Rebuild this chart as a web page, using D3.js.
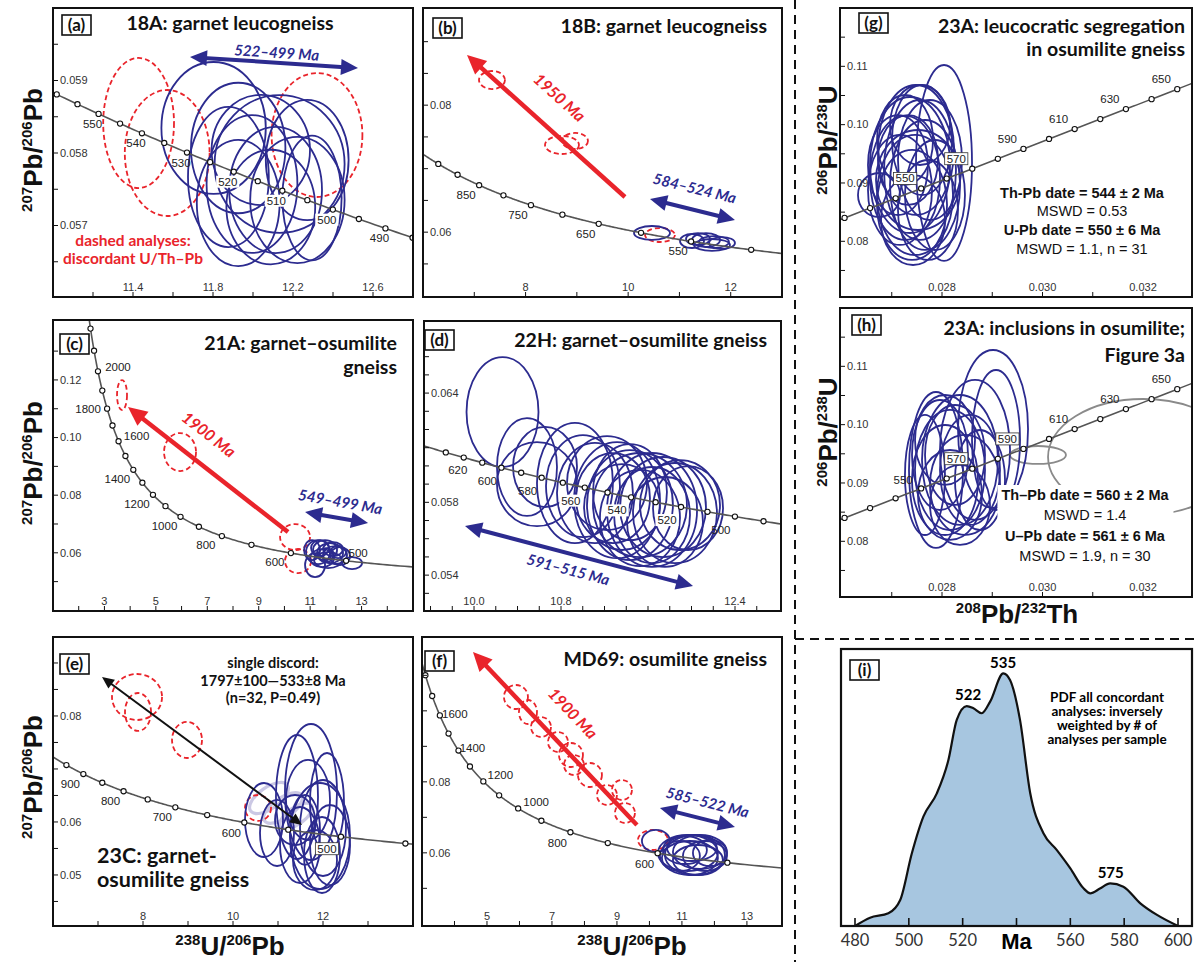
<!DOCTYPE html>
<html>
<head>
<meta charset="utf-8">
<script src="https://cdn.jsdelivr.net/npm/d3@7/dist/d3.min.js"></script>
<style>
  body { margin: 0; background: #fff; }
  svg { display: block; }
  .tick-label { font-family: 'Liberation Sans', Arial, sans-serif; font-size: 11px; fill: #333; }
  .age-label { font-family: 'Liberation Sans', Arial, sans-serif; font-size: 11.5px; fill: #222; }
  .title { font-family: Lato, 'Open Sans', sans-serif; font-weight: bold; fill: #111; }
  .axis-title { font-family: 'Liberation Sans', Arial, sans-serif; font-weight: bold; font-size: 26px; fill: #111; }
  .tag { font-family: Lato, sans-serif; font-weight: bold; font-size: 17px; fill: #111; }
  .note { font-family: Lato, sans-serif; font-weight: bold; }
  .stat { font-family: 'Liberation Sans', Arial, sans-serif; font-size: 14.5px; fill: #111; }
</style>
</head>
<body>
<svg id="fig" width="1199" height="962"></svg>
<script>
'use strict';

var BLUE = '#2c2b8f';
var RED = '#e9242b';
var LAVENDER = '#cbc8e4';
var GRAY = '#8a8a8a';
var FILL_I = '#a7c6e0';

// decay constants, per Ma
var L238 = 1.55125e-4, L235 = 9.8485e-4, L232 = 4.9475e-5, U_RATIO = 137.88;
function twX(t) { return 1 / (Math.exp(L238 * t) - 1); }
function twY(t) { return (Math.exp(L235 * t) - 1) / (Math.exp(L238 * t) - 1) / U_RATIO; }
function thX(t) { return Math.exp(L232 * t) - 1; }
function thY(t) { return Math.exp(L238 * t) - 1; }

// ---------- (a) 18A ----------  ellipses: [x, y, half-width, half-height]
var aXLabels = [11.4, 11.8, 12.2, 12.6];
var aYLabels = [0.057, 0.058, 0.059];
var aAges = [485, 490, 495, 500, 505, 510, 515, 520, 525, 530, 535, 540, 545, 550, 555, 560];
var aAgeLabels = [490, 500, 510, 520, 530, 540, 550];
var aRed = [[11.428, 0.058414, 0.177, 0.000897], [11.571, 0.05800, 0.212, 0.000869], [12.320, 0.058248, 0.227, 0.000855]];
var aBlue = [
  [11.803, 0.058345, 0.261, 0.00091], [11.877, 0.057669, 0.202, 0.000966], [11.995, 0.057572, 0.227, 0.00095],
  [12.133, 0.057848, 0.325, 0.00095], [12.222, 0.057352, 0.236, 0.00087], [12.113, 0.05749, 0.232, 0.00087],
  [12.271, 0.057903, 0.207, 0.00083], [11.926, 0.058069, 0.236, 0.0009], [11.926, 0.05731, 0.207, 0.00087],
  [12.295, 0.057379, 0.148, 0.00086], [12.089, 0.057255, 0.222, 0.00079], [12.039, 0.058041, 0.246, 0.00076]
];

// ---------- (b) 18B ----------
var bXLabels = [8, 10, 12];
var bYLabels = [0.06, 0.08];
var bAges = [500, 550, 600, 650, 700, 750, 800, 850, 900, 950];
var bAgeLabels = [850, 750, 650, 550];
var bRed = [[7.345, 0.08396, 0.253, 0.00142], [8.710, 0.07373, 0.331, 0.00142], [8.963, 0.07436, 0.253, 0.00126], [10.621, 0.05955, 0.292, 0.0011]];
var bBlue = [
  [10.465, 0.05987, 0.351, 0.0011], [11.362, 0.05892, 0.234, 0.00094], [11.518, 0.05876, 0.273, 0.0011],
  [11.674, 0.05845, 0.292, 0.00094], [11.830, 0.05829, 0.253, 0.00094], [11.635, 0.05798, 0.351, 0.00094],
  [11.245, 0.05861, 0.234, 0.0011]
];

// ---------- (c) 21A ----------
var cXLabels = [3, 5, 7, 9, 11, 13];
var cYLabels = [0.06, 0.08, 0.10, 0.12];
var cAges = [500, 600, 700, 800, 900, 1000, 1100, 1200, 1300, 1400, 1500, 1600, 1700, 1800, 1900, 2000, 2100, 2200];
var cAgeLabels = [2000, 1800, 1600, 1400, 1200, 1000, 800, 600, 500];
var cRed = [[3.684, 0.11476, 0.194, 0.0052], [5.940, 0.09497, 0.622, 0.0066], [10.413, 0.06545, 0.583, 0.0045], [10.529, 0.05712, 0.506, 0.0042]];
var cBlue = [
  [11.307, 0.06024, 0.467, 0.00417], [11.580, 0.06094, 0.467, 0.00347], [11.774, 0.0599, 0.506, 0.00347],
  [11.968, 0.0592, 0.467, 0.00313], [12.163, 0.05886, 0.389, 0.00313], [11.463, 0.05816, 0.467, 0.00313],
  [11.191, 0.05573, 0.389, 0.00417], [12.630, 0.05643, 0.389, 0.00208], [11.696, 0.05747, 0.545, 0.00278],
  [11.074, 0.06094, 0.311, 0.00347], [11.385, 0.06163, 0.35, 0.00278], [11.891, 0.06128, 0.389, 0.00243],
  [11.619, 0.0592, 0.311, 0.00243], [12.085, 0.06024, 0.311, 0.00208]
];

// ---------- (d) 22H ----------
var dXLabels = [10.0, 10.8, 12.4];
var dYLabels = [0.054, 0.058, 0.064];
var dAges = [490, 500, 510, 520, 530, 540, 550, 560, 570, 580, 590, 600, 610, 620, 630];
var dAgeLabels = [620, 600, 580, 560, 540, 520, 500];
var dBlue = [
  [10.262, 0.06296, 0.331, 0.00302], [10.487, 0.05994, 0.276, 0.00269], [10.579, 0.05900, 0.368, 0.00231],
  [10.653, 0.05994, 0.294, 0.0022], [10.928, 0.05906, 0.349, 0.0033], [11.002, 0.05889, 0.340, 0.0028],
  [11.112, 0.05851, 0.349, 0.00275], [11.315, 0.05812, 0.395, 0.00319], [11.434, 0.05785, 0.395, 0.00302],
  [11.526, 0.05785, 0.432, 0.00286], [11.637, 0.05758, 0.414, 0.00313], [11.738, 0.05774, 0.395, 0.00275],
  [11.848, 0.05741, 0.386, 0.00275], [11.894, 0.05785, 0.368, 0.00247], [11.526, 0.05714, 0.368, 0.00264],
  [11.361, 0.05774, 0.349, 0.00236], [11.637, 0.0573, 0.349, 0.00264], [11.756, 0.05692, 0.349, 0.00247],
  [11.278, 0.05823, 0.340, 0.00247], [11.968, 0.05768, 0.322, 0.00231], [11.434, 0.05856, 0.340, 0.00264],
  [11.223, 0.05906, 0.368, 0.00258]
];

// ---------- (e) 23C ----------
var eXLabels = [8, 10, 12];
var eYLabels = [0.05, 0.06, 0.08];
var eAges = [450, 500, 550, 600, 650, 700, 750, 800, 850, 900, 950];
var eAgeLabels = [900, 800, 700, 600, 500];
var eRed = [[7.867, 0.08358, 0.556, 0.00434], [7.889, 0.08075, 0.289, 0.00358], [8.978, 0.07547, 0.333, 0.0034], [10.556, 0.06264, 0.289, 0.00245]];
// pale ellipses: [x, y, half-width, half-height, tilt]
var eLight = [[10.80, 0.06452, 0.50, 0.0020, -35], [11.11, 0.06264, 0.50, 0.0019, -35], [11.40, 0.06113, 0.42, 0.0016, -35]];
var eBlue = [
  [11.733, 0.06565, 0.578, 0.01283], [11.422, 0.06471, 0.467, 0.0117], [10.689, 0.06037, 0.422, 0.00698],
  [11.933, 0.05735, 0.667, 0.0100], [12.0, 0.05886, 0.511, 0.00906], [11.489, 0.05565, 0.444, 0.00717],
  [11.978, 0.05377, 0.4, 0.00717], [11.667, 0.06415, 0.489, 0.00755], [10.978, 0.05792, 0.378, 0.00623],
  [12.089, 0.06358, 0.378, 0.00943], [11.6, 0.05849, 0.333, 0.0066], [11.822, 0.05282, 0.489, 0.00566],
  [11.378, 0.06037, 0.444, 0.00472], [12.156, 0.05565, 0.444, 0.00755]
];

// ---------- (f) MD69 ----------
var fXLabels = [5, 7, 9, 11, 13];
var fYLabels = [0.06, 0.08];
var fAges = [500, 600, 700, 800, 900, 1000, 1100, 1200, 1300, 1400, 1500, 1600, 1700, 1800];
var fAgeLabels = [1600, 1400, 1200, 1000, 800, 600];
var fRed = [
  [5.892, 0.10390, 0.369, 0.00338], [6.262, 0.09967, 0.277, 0.00338], [6.662, 0.09545, 0.308, 0.00282],
  [7.185, 0.09122, 0.308, 0.00282], [7.585, 0.08756, 0.369, 0.00338], [7.677, 0.08474, 0.308, 0.00282],
  [8.169, 0.08193, 0.369, 0.00338], [8.692, 0.07629, 0.308, 0.00282], [9.154, 0.0777, 0.308, 0.00282],
  [9.246, 0.07122, 0.308, 0.00282], [10.108, 0.06362, 0.462, 0.00282]
];
var fBlue = [
  [11.185, 0.05995, 0.923, 0.00507], [11.4, 0.05939, 0.923, 0.00563], [11.554, 0.06024, 0.831, 0.00479],
  [11.246, 0.05855, 0.862, 0.00479], [11.708, 0.05911, 0.677, 0.00423], [11.092, 0.0608, 0.677, 0.00394],
  [11.492, 0.05798, 0.769, 0.00423], [11.308, 0.06136, 0.769, 0.00366], [10.938, 0.05911, 0.615, 0.00423],
  [11.862, 0.05995, 0.523, 0.00366], [10.2, 0.06334, 0.431, 0.0031]
];

// ---------- (g) 23A segregation ----------
var ghXLabels = [0.028, 0.030, 0.032];
var ghYLabels = [0.08, 0.09, 0.10, 0.11];
var ghAges = [520, 530, 540, 550, 560, 570, 580, 590, 600, 610, 620, 630, 640, 650];
var ghAgeLabels = [550, 570, 590, 610, 630, 650];
var gBlue = [
  [0.02804, 0.09343, 0.000557, 0.0168], [0.027482, 0.09566, 0.000756, 0.01114], [0.027363, 0.09308, 0.000796, 0.01166],
  [0.027562, 0.09223, 0.000716, 0.0120], [0.027264, 0.09086, 0.000697, 0.01063], [0.027662, 0.08966, 0.000697, 0.01114],
  [0.027463, 0.08794, 0.000756, 0.01029], [0.027164, 0.0888, 0.000637, 0.00943], [0.027761, 0.09394, 0.000637, 0.01029],
  [0.026746, 0.08794, 0.000418, 0.00377], [0.027403, 0.08623, 0.000697, 0.00943], [0.027602, 0.09737, 0.000597, 0.00943],
  [0.027323, 0.09394, 0.000597, 0.00771], [0.02786, 0.08794, 0.000597, 0.00943], [0.027522, 0.09051, 0.000836, 0.00857],
  [0.027124, 0.09308, 0.000597, 0.00857], [0.027721, 0.08537, 0.000597, 0.00857], [0.027423, 0.08365, 0.000637, 0.00771],
  [0.027264, 0.09737, 0.000557, 0.00771], [0.027562, 0.09994, 0.000597, 0.00686]
];
var gStats = ['Th-Pb date = 544 ± 2 Ma', 'MSWD = 0.53', 'U-Pb date = 550 ± 6 Ma', 'MSWD = 1.1, n = 31'];

// ---------- (h) 23A inclusions ----------
var hBlue = [
  [0.029015, 0.09926, 0.000697, 0.01354], [0.029075, 0.09737, 0.000478, 0.012], [0.02788, 0.09223, 0.000537, 0.01337],
  [0.028159, 0.09223, 0.000697, 0.01029], [0.028358, 0.09394, 0.000756, 0.01114], [0.02806, 0.09051, 0.000657, 0.00943],
  [0.028458, 0.08966, 0.000697, 0.00857], [0.028259, 0.0948, 0.000597, 0.00857], [0.02796, 0.0948, 0.000557, 0.00943],
  [0.028557, 0.09223, 0.000597, 0.00943], [0.028159, 0.08794, 0.000637, 0.00771], [0.028657, 0.09566, 0.000697, 0.012],
  [0.028358, 0.08623, 0.000597, 0.00686], [0.02806, 0.09737, 0.000597, 0.00771], [0.028756, 0.09051, 0.000498, 0.00857],
  [0.027661, 0.09137, 0.000398, 0.01029]
];
var hGray = [[0.02991, 0.0948, 0.000557, 0.00154], [0.03200, 0.09446, 0.00189, 0.00994]];
var hStats = ['Th–Pb date = 560 ± 2 Ma', 'MSWD = 1.4', 'U–Pb date = 561 ± 6 Ma', 'MSWD = 1.9, n = 30'];

// ---------- (i) PDF ----------
var iAge = [480, 485.6, 492.4, 496.8, 501.1, 505.4, 510.4, 514.7, 517.8, 521.5, 524.0, 527.1, 530.2, 535.1, 537.6,
  541.3, 545.1, 550.0, 555.0, 560.0, 564.9, 567.4, 571.0, 574.8, 579.7, 586.0, 592.2, 600];
var iDens = [0, 0.030, 0.046, 0.094, 0.262, 0.395, 0.479, 0.599, 0.744, 0.794, 0.786, 0.768, 0.810, 0.912, 0.888,
  0.744, 0.479, 0.335, 0.274, 0.208, 0.136, 0.118, 0.135, 0.154, 0.142, 0.082, 0.040, 0];
var iTicks = [480, 500, 520, 540, 560, 580, 600];
var iPeaks = [522, 535, 575];
var iPeakVals = [0.794, 0.912, 0.154];

// ---------- layout ----------
var svg = d3.select('#fig');
var defs = svg.append('defs');

var panels = [
  { id: 'a', x0: 53, x1: 413, y0: 8, y1: 297, xDom: [11.0, 12.8], yDom: [0.056014, 0.0600], xStep: 0.2, yStep: 0.0005,
    xLabels: aXLabels, yLabels: aYLabels, xFmt: '.1f', yFmt: '.3f', sys: 'tw', tSpan: [470, 580, 1],
    ages: aAges, ageLabels: aAgeLabels, labOff: [-6, 10], labOver: {}, boxed: [520, 510, 500], boxStroke: false,
    red: aRed, blue: aBlue,
    arrows: [{ from: [11.685, 0.059324], to: [12.525, 0.059172], both: true, kind: 'blue', label: '522–499 Ma', off: 10, along: 2 }],
    tag: [62, 15], title: ['18A: garnet leucogneiss'], tAnchor: 'middle', tX: 230, tY: [30], tSize: 19.5 },
  { id: 'b', x0: 423, x1: 782, y0: 8, y1: 297, xDom: [6, 13], yDom: [0.04979, 0.0953], xStep: 1, yStep: 0.005,
    xLabels: bXLabels, yLabels: bYLabels, xFmt: 'd', yFmt: '.2f', sys: 'tw', tSpan: [440, 1100, 2],
    ages: bAges, ageLabels: bAgeLabels, labOff: [-13, 10], labOver: {}, boxed: [], boxStroke: false,
    red: bRed, blue: bBlue,
    arrows: [
      { from: [9.938, 0.06554], to: [6.858, 0.0879], both: false, kind: 'red', label: '1950 Ma', off: 30, along: -9 },
      { from: [10.426, 0.06522], to: [12.083, 0.06191], both: true, kind: 'blue', label: '584–524 Ma', off: 21, along: -3 }
    ],
    tag: [433, 18], title: ['18B: garnet leucogneiss'], tAnchor: 'end', tX: 767, tY: [33], tSize: 19.5 },
  { id: 'c', x0: 53, x1: 413, y0: 320, y1: 611, xDom: [1, 15], yDom: [0.0398, 0.1408], xStep: 1, yStep: 0.01,
    xLabels: cXLabels, yLabels: cYLabels, xFmt: 'd', yFmt: '.2f', sys: 'tw', tSpan: [380, 2500, 5],
    ages: cAges, ageLabels: cAgeLabels, labOff: [-16, 9],
    labOver: { 2000: [20, -4], 1800: [-19, 0], 1600: [18, -5], 500: [12, -8] }, boxed: [], boxStroke: false,
    red: cRed, blue: cBlue,
    arrows: [
      { from: [10.140, 0.06719], to: [3.917, 0.11059], both: false, kind: 'red', label: '1900 Ma', off: 28, along: -21 },
      { from: [10.802, 0.07413], to: [13.252, 0.07031], both: true, kind: 'blue', label: '549–499 Ma', off: 16, along: 1 }
    ],
    tag: [60, 334], title: ['21A: garnet–osumilite', 'gneiss'], tAnchor: 'end', tX: 397, tY: [350, 374], tSize: 19.5 },
  { id: 'd', x0: 424, x1: 781, y0: 321, y1: 611, xDom: [9.54, 12.823], yDom: [0.05203, 0.06796], xStep: 0.2, yStep: 0.001,
    xLabels: dXLabels, yLabels: dYLabels, xFmt: '.1f', yFmt: '.3f', sys: 'tw', tSpan: [470, 660, 1],
    ages: dAges, ageLabels: dAgeLabels, labOff: [-14, 13], labOver: { 620: [-6, 12] }, boxed: [560, 540, 520], boxStroke: false,
    red: [], blue: dBlue,
    arrows: [{ from: [9.917, 0.05670], to: [12.014, 0.05340], both: true, kind: 'blue', label: '591–515 Ma', off: -16, along: -7 }],
    tag: [425, 330], title: ['22H: garnet–osumilite gneiss'], tAnchor: 'end', tX: 767, tY: [347], tSize: 19.5 },
  { id: 'e', x0: 53, x1: 413, y0: 637, y1: 926, xDom: [6, 14], yDom: [0.04037, 0.0949], xStep: 1, yStep: 0.005,
    xLabels: eXLabels, yLabels: eYLabels, xFmt: 'd', yFmt: '.2f', sys: 'tw', tSpan: [400, 1100, 2],
    ages: eAges, ageLabels: eAgeLabels, labOff: [-13, 10], labOver: { 500: [-14, 12] }, boxed: [500], boxStroke: true,
    red: eRed, blue: eBlue, light: eLight,
    arrows: [{ from: [11.533, 0.05943], to: [7.089, 0.08735], both: true, kind: 'black' }],
    tag: [60, 654], title: ['23C: garnet-', 'osumilite gneiss'], tAnchor: 'start', tX: 97, tY: [863, 887], tSize: 21.5 },
  { id: 'f', x0: 422, x1: 782, y0: 637, y1: 926, xDom: [3, 14.08], yDom: [0.03939, 0.1208], xStep: 1, yStep: 0.01,
    xLabels: fXLabels, yLabels: fYLabels, xFmt: 'd', yFmt: '.2f', sys: 'tw', tSpan: [380, 2200, 5],
    ages: fAges, ageLabels: fAgeLabels, labOff: [-13, 11],
    labOver: { 1600: [15, -1], 1400: [14, -3], 1200: [17, -6], 1000: [18, -6] }, boxed: [], boxStroke: false,
    red: fRed, blue: fBlue,
    arrows: [
      { from: [9.615, 0.06784], to: [4.569, 0.11657], both: false, kind: 'red', label: '1900 Ma', off: 30, along: -6 },
      { from: [10.323, 0.07263], to: [12.631, 0.06728], both: true, kind: 'blue', label: '585–522 Ma', off: 17, along: 6 }
    ],
    tag: [425, 651], title: ['MD69: osumilite gneiss'], tAnchor: 'end', tX: 767, tY: [666], tSize: 19.5 },
  { id: 'g', x0: 840, x1: 1192, y0: 8, y1: 297, xDom: [0.02597, 0.032975], yDom: [0.07045, 0.12], xStep: 0.001, yStep: 0.005,
    xLabels: ghXLabels, yLabels: ghYLabels, xFmt: '.3f', yFmt: '.2f', sys: 'th', tSpan: [480, 720, 1],
    ages: ghAges, ageLabels: ghAgeLabels, labOff: [-16, -10], labOver: {}, boxed: [550, 570], boxStroke: true,
    red: [], blue: gBlue, arrows: [], stats: gStats, statX: 1082, statY: [198, 216, 235, 254],
    tag: [859, 13], title: ['23A: leucocratic segregation', 'in osumilite gneiss'], tAnchor: 'end', tX: 1185, tY: [33, 56], tSize: 19.5 },
  { id: 'h', x0: 840, x1: 1192, y0: 308, y1: 597, xDom: [0.02597, 0.032975], yDom: [0.07045, 0.12], xStep: 0.001, yStep: 0.005,
    xLabels: ghXLabels, yLabels: ghYLabels, xFmt: '.3f', yFmt: '.2f', sys: 'th', tSpan: [480, 720, 1],
    ages: ghAges, ageLabels: ghAgeLabels, labOff: [-16, -10], labOver: { 550: [-18, -8] }, boxed: [570, 590], boxStroke: true,
    red: [], blue: hBlue, gray: hGray, arrows: [], stats: hStats, statX: 1085, statY: [500, 520, 541, 561],
    tag: [852, 315], title: ['23A: inclusions in osumilite;', 'Figure 3a'], tAnchor: 'end', tX: 1185, tY: [335, 362], tSize: 19.5 }
];

var arrowStyle = {
  blue: { color: BLUE, width: 4, head: 17, half: 8, fs: 15 },
  red: { color: RED, width: 4.5, head: 19, half: 9, fs: 16 },
  black: { color: '#111', width: 2, head: 12, half: 5.5, fs: 14 }
};

function stepValues(dom, step) {
  var lo = Math.min(dom[0], dom[1]), hi = Math.max(dom[0], dom[1]);
  var k0 = Math.ceil(lo / step - 1e-6), k1 = Math.floor(hi / step + 1e-6);
  return d3.range(k0, k1 + 1).map(function (k) { return +(k * step).toFixed(6); });
}

function drawEllipses(layer, data, x, y, color, dash, width) {
  layer.append('g').selectAll('ellipse').data(data).enter().append('ellipse')
    .attr('cx', function (d) { return x(d[0]); })
    .attr('cy', function (d) { return y(d[1]); })
    .attr('rx', function (d) { return Math.abs(x(d[0] + d[2]) - x(d[0])); })
    .attr('ry', function (d) { return Math.abs(y(d[1] + d[3]) - y(d[1])); })
    .attr('transform', function (d) { return d.length > 4 ? 'rotate(' + d[4] + ',' + x(d[0]) + ',' + y(d[1]) + ')' : null; })
    .attr('fill', 'none').attr('stroke', color).attr('stroke-width', width || 1.8)
    .attr('stroke-dasharray', dash);
}

function drawArrow(layer, a, x, y) {
  var st = arrowStyle[a.kind];
  var x1 = x(a.from[0]), y1 = y(a.from[1]), x2 = x(a.to[0]), y2 = y(a.to[1]);
  var dx = x2 - x1, dy = y2 - y1, len = Math.sqrt(dx * dx + dy * dy);
  var ux = dx / len, uy = dy / len;
  function head(tx, ty, vx, vy) {
    var bx = tx - vx * st.head, by = ty - vy * st.head;
    return [[tx, ty], [bx - vy * st.half, by + vx * st.half], [bx + vy * st.half, by - vx * st.half]];
  }
  var sx = a.both ? x1 + ux * st.head * 0.8 : x1, sy = a.both ? y1 + uy * st.head * 0.8 : y1;
  layer.append('line')
    .attr('x1', sx).attr('y1', sy).attr('x2', x2 - ux * st.head * 0.8).attr('y2', y2 - uy * st.head * 0.8)
    .attr('stroke', st.color).attr('stroke-width', st.width);
  layer.append('polygon').attr('points', head(x2, y2, ux, uy).join(' ')).attr('fill', st.color);
  if (a.both) layer.append('polygon').attr('points', head(x1, y1, -ux, -uy).join(' ')).attr('fill', st.color);
  if (a.label) {
    var ang = Math.atan2(dy, dx) * 180 / Math.PI;
    if (ang > 90) ang -= 180; else if (ang < -90) ang += 180;
    var r = ang * Math.PI / 180;
    var lx = (x1 + x2) / 2 + Math.sin(r) * a.off + Math.cos(r) * a.along;
    var ly = (y1 + y2) / 2 - Math.cos(r) * a.off + Math.sin(r) * a.along;
    layer.append('text').attr('class', 'note')
      .attr('transform', 'translate(' + lx + ',' + ly + ') rotate(' + ang + ')')
      .attr('text-anchor', 'middle').attr('dy', '0.35em')
      .style('font-size', st.fs + 'px').style('font-style', 'italic').style('fill', st.color)
      .text(a.label);
  }
}

function drawTag(txt, pos) {
  svg.append('rect').attr('x', pos[0]).attr('y', pos[1]).attr('width', 29).attr('height', 20)
    .attr('fill', '#fff').attr('stroke', '#111').attr('stroke-width', 1.6);
  svg.append('text').attr('class', 'tag').attr('x', pos[0] + 14.5).attr('y', pos[1] + 15.5)
    .attr('text-anchor', 'middle').text(txt);
}

// axis title with superscript mass numbers: parts = [[text, isSup], ...]
function axisTitle(px, py, rot, parts) {
  var t = svg.append('text').attr('class', 'axis-title').attr('text-anchor', 'middle')
    .attr('transform', 'translate(' + px + ',' + py + ') rotate(' + rot + ')');
  var shift = 0;
  parts.forEach(function (p) {
    var s = t.append('tspan').text(p[0]);
    if (p[1]) { s.style('font-size', '15px').attr('dy', -10 - shift); shift = -10; }
    else { s.attr('dy', -shift); shift = 0; }
  });
}

function drawPanel(p) {
  var x = d3.scaleLinear().domain(p.xDom).range([p.x0, p.x1]);
  var y = d3.scaleLinear().domain(p.yDom).range([p.y1, p.y0]);
  var fx = p.sys === 'tw' ? twX : thX, fy = p.sys === 'tw' ? twY : thY;
  var g = svg.append('g').attr('id', 'panel-' + p.id);
  var cid = 'clip-' + p.id;
  defs.append('clipPath').attr('id', cid).append('rect')
    .attr('x', p.x0).attr('y', p.y0).attr('width', p.x1 - p.x0).attr('height', p.y1 - p.y0);
  var plot = g.append('g').attr('clip-path', 'url(#' + cid + ')');

  // ticks inside the frame
  var xt = stepValues(p.xDom, p.xStep).filter(function (v) { return x(v) > p.x0 + 3 && x(v) < p.x1 - 3; });
  var yt = stepValues(p.yDom, p.yStep).filter(function (v) { return y(v) > p.y0 + 3 && y(v) < p.y1 - 3; });
  g.append('g').selectAll('line').data(xt).enter().append('line')
    .attr('x1', x).attr('x2', x).attr('y1', p.y1).attr('y2', p.y1 - 5)
    .attr('stroke', '#111').attr('stroke-width', 1);
  g.append('g').selectAll('line').data(yt).enter().append('line')
    .attr('y1', y).attr('y2', y).attr('x1', p.x0).attr('x2', p.x0 + 5)
    .attr('stroke', '#111').attr('stroke-width', 1);
  g.append('g').selectAll('text').data(p.xLabels).enter().append('text').attr('class', 'tick-label')
    .attr('x', x).attr('y', p.y1 - 10).attr('dy', '0.35em').attr('text-anchor', 'middle')
    .text(d3.format(p.xFmt));
  g.append('g').selectAll('text').data(p.yLabels).enter().append('text').attr('class', 'tick-label')
    .attr('x', p.x0 + 7).attr('y', y).attr('dy', '0.35em')
    .text(d3.format(p.yFmt));

  if (p.gray) drawEllipses(plot, p.gray, x, y, GRAY, null, 1.8);
  if (p.light) drawEllipses(plot, p.light, x, y, LAVENDER, null, 3.2);
  drawEllipses(plot, p.red, x, y, RED, '5,3', 1.8);
  drawEllipses(plot, p.blue, x, y, BLUE, null, 1.8);

  // concordia
  var tLine = d3.range(p.tSpan[0], p.tSpan[1], p.tSpan[2]);
  plot.append('path').datum(tLine)
    .attr('d', d3.line().x(function (t) { return x(fx(t)); }).y(function (t) { return y(fy(t)); }))
    .attr('fill', 'none').attr('stroke', '#555').attr('stroke-width', 1.6);
  plot.append('g').selectAll('circle').data(p.ages).enter().append('circle')
    .attr('cx', function (t) { return x(fx(t)); }).attr('cy', function (t) { return y(fy(t)); })
    .attr('r', 2.6).attr('fill', '#fff').attr('stroke', '#111').attr('stroke-width', 1.1);

  var labs = g.append('g').selectAll('g').data(p.ageLabels).enter().append('g');
  labs.each(function (t) {
    var o = p.labOver[t] || p.labOff;
    var sel = d3.select(this);
    var rect = sel.append('rect');
    var tx = sel.append('text').attr('class', 'age-label').attr('text-anchor', 'middle')
      .attr('x', x(fx(t)) + o[0]).attr('y', y(fy(t)) + o[1]).attr('dy', '0.35em').text(t);
    if (p.boxed.indexOf(t) >= 0) {
      var bb = tx.node().getBBox();
      rect.attr('x', bb.x - 2).attr('y', bb.y).attr('width', bb.width + 4).attr('height', bb.height)
        .attr('fill', '#fff').attr('stroke', p.boxStroke ? '#333' : 'none').attr('stroke-width', 0.8);
    }
  });

  p.arrows.forEach(function (a) { drawArrow(g, a, x, y); });

  if (p.stats) {
    var sg = g.append('g');
    var bg = sg.append('rect');
    sg.selectAll('text').data(p.stats).enter().append('text').attr('class', 'stat')
      .attr('x', p.statX).attr('y', function (d, i) { return p.statY[i]; }).attr('text-anchor', 'middle')
      .style('font-weight', function (d, i) { return i % 2 === 0 ? 'bold' : 'normal'; })
      .text(function (d) { return d; });
    var sb = sg.node().getBBox();
    bg.attr('x', sb.x - 4).attr('y', sb.y - 2).attr('width', sb.width + 8).attr('height', sb.height + 4).attr('fill', '#fff');
  }

  g.append('rect').attr('x', p.x0).attr('y', p.y0).attr('width', p.x1 - p.x0).attr('height', p.y1 - p.y0)
    .attr('fill', 'none').attr('stroke', '#111').attr('stroke-width', 2);

  g.append('g').selectAll('text').data(p.title).enter().append('text').attr('class', 'title')
    .attr('x', p.tX).attr('y', function (d, i) { return p.tY[i]; }).attr('text-anchor', p.tAnchor)
    .style('font-size', p.tSize + 'px').text(function (d) { return d; });
  drawTag('(' + p.id + ')', p.tag);
}

panels.forEach(drawPanel);

// free annotations
svg.append('g').selectAll('text').data(['dashed analyses:', 'discordant U/Th–Pb']).enter().append('text')
  .attr('class', 'note').attr('x', 133).attr('y', function (d, i) { return 246 + i * 18; })
  .attr('text-anchor', 'middle').style('font-size', '15.5px').style('fill', RED).text(function (d) { return d; });
svg.append('g').selectAll('text').data(['single discord:', '1797±100—533±8 Ma', '(n=32, P=0.49)']).enter().append('text')
  .attr('class', 'note').attr('x', 273).attr('y', function (d, i) { return 668 + i * 17.5; })
  .attr('text-anchor', 'middle').style('font-size', '14.5px').style('fill', '#111').text(function (d) { return d; });

// axis titles
var pbpb = [['207', true], ['Pb/', false], ['206', true], ['Pb', false]];
var pbu = [['206', true], ['Pb/', false], ['238', true], ['U', false]];
axisTitle(42, 150, -90, pbpb);
axisTitle(42, 463, -90, pbpb);
axisTitle(42, 777, -90, pbpb);
axisTitle(837, 140, -90, pbu);
axisTitle(837, 432, -90, pbu);
axisTitle(230, 955, 0, [['238', true], ['U/', false], ['206', true], ['Pb', false]]);
axisTitle(632, 955, 0, [['238', true], ['U/', false], ['206', true], ['Pb', false]]);
axisTitle(1017, 623, 0, [['208', true], ['Pb/', false], ['232', true], ['Th', false]]);

// ---------- panel (i) ----------
(function () {
  var P = { x0: 841, x1: 1192, y0: 649, y1: 926 };
  var x = d3.scaleLinear().domain([474.8, 605.2]).range([P.x0, P.x1]);
  var y = d3.scaleLinear().domain([0, 1]).range([P.y1, P.y0]);
  var g = svg.append('g').attr('id', 'panel-i');
  var pts = iAge.map(function (a, k) { return [a, iDens[k]]; });
  g.append('path').datum(pts)
    .attr('d', d3.area().x(function (d) { return x(d[0]); }).y0(y(0)).y1(function (d) { return y(d[1]); }).curve(d3.curveMonotoneX))
    .attr('fill', FILL_I);
  g.append('path').datum(pts)
    .attr('d', d3.line().x(function (d) { return x(d[0]); }).y(function (d) { return y(d[1]); }).curve(d3.curveMonotoneX))
    .attr('fill', 'none').attr('stroke', '#111').attr('stroke-width', 2.2);
  g.append('rect').attr('x', P.x0).attr('y', P.y0).attr('width', P.x1 - P.x0).attr('height', P.y1 - P.y0)
    .attr('fill', 'none').attr('stroke', '#111').attr('stroke-width', 2.2);
  g.append('g').selectAll('line').data(iTicks).enter().append('line')
    .attr('x1', x).attr('x2', x).attr('y1', P.y1).attr('y2', P.y1 - 8).attr('stroke', '#111').attr('stroke-width', 1.6);
  g.append('g').selectAll('text').data(iTicks).enter().append('text')
    .attr('x', x).attr('y', 946).attr('text-anchor', 'middle')
    .style('font-family', 'Lato, sans-serif').style('font-size', '16.5px').style('fill', '#333')
    .text(function (d) { return d === 540 ? '' : d; });
  g.append('text').attr('x', x(540)).attr('y', 949).attr('text-anchor', 'middle')
    .style('font-family', "'Liberation Sans', Arial, sans-serif").style('font-weight', 'bold').style('font-size', '22px')
    .text('Ma');
  g.append('g').selectAll('text').data(iPeaks).enter().append('text').attr('class', 'note')
    .attr('x', x).attr('y', function (d, k) { return y(iPeakVals[k]) - 11; }).attr('dy', '0.35em')
    .attr('text-anchor', 'middle').style('font-size', '15px').text(function (d) { return d; });
  g.append('g').selectAll('text')
    .data(['PDF all concordant', 'analyses: inversely', 'weighted by # of', 'analyses per sample']).enter().append('text')
    .attr('class', 'note').attr('x', 1107).attr('y', function (d, k) { return 702 + k * 14; })
    .attr('text-anchor', 'middle').style('font-size', '13.5px').text(function (d) { return d; });
  drawTag('(i)', [850, 660]);
})();

// dashed separators
svg.append('line').attr('x1', 795).attr('x2', 795).attr('y1', 0).attr('y2', 962)
  .attr('stroke', '#111').attr('stroke-width', 2).attr('stroke-dasharray', '9,6');
svg.append('line').attr('x1', 795).attr('x2', 1199).attr('y1', 639).attr('y2', 639)
  .attr('stroke', '#111').attr('stroke-width', 2).attr('stroke-dasharray', '9,6');
</script>
</body>
</html>
